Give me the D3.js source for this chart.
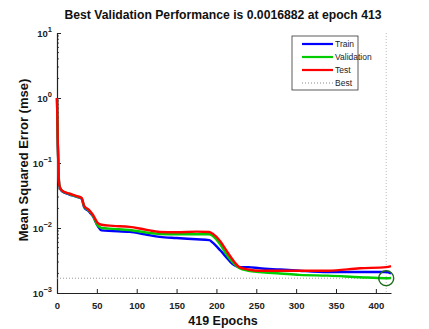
<!DOCTYPE html>
<html>
<head>
<meta charset="utf-8">
<script src="https://cdn.jsdelivr.net/npm/d3@7"></script>
<style>
  body { margin: 0; background: #fff; }
  svg { display: block; font-family: "Liberation Sans", Arial, sans-serif; }
</style>
</head>
<body>
<script>
// epochs
var epochs = [0, 1, 2, 3, 6, 15, 25, 31, 34, 40, 45, 51, 56, 70, 91, 110, 129, 150, 175, 191, 195, 205, 212, 220, 229, 240, 254, 280, 304, 340, 380, 413, 419]
var trainPerf = [1.0, 0.2, 0.068, 0.044, 0.037, 0.033, 0.030, 0.028, 0.021, 0.018, 0.0152, 0.0108, 0.0092, 0.0090, 0.0087, 0.0080, 0.0073, 0.0070, 0.0067, 0.0065, 0.0060, 0.0045, 0.0036, 0.0028, 0.0025, 0.0025, 0.0024, 0.0023, 0.0022, 0.0021, 0.0021, 0.0021, 0.0020]
var valPerf = [1.0, 0.2, 0.069, 0.045, 0.0375, 0.0335, 0.0305, 0.0285, 0.0215, 0.0185, 0.0155, 0.011, 0.0100, 0.0097, 0.0093, 0.0086, 0.0081, 0.0080, 0.0080, 0.0080, 0.0076, 0.0055, 0.0040, 0.0030, 0.0024, 0.0022, 0.0021, 0.0020, 0.0019, 0.00185, 0.00175, 0.0016882, 0.0017]
var testPerf = [1.0, 0.2, 0.07, 0.045, 0.038, 0.034, 0.031, 0.029, 0.022, 0.019, 0.016, 0.012, 0.0112, 0.0108, 0.0104, 0.0095, 0.0087, 0.0086, 0.0088, 0.0087, 0.0082, 0.0062, 0.0046, 0.0033, 0.0025, 0.0023, 0.0022, 0.0022, 0.0022, 0.0022, 0.0024, 0.0025, 0.0026]
var xTicks = [0, 50, 100, 150, 200, 250, 300, 350, 400]
var yExps = [1, 0, -1, -2, -3]
var bestEpoch = 413
var bestPerf = 0.0016882
var seriesNames = ["Train", "Validation", "Test", "Best"]
var seriesColors = ["#0000ff", "#00cc00", "#ff0000", "#888"]

var width = 429, height = 329
var margin = {top: 33, left: 57, bottom: 36, right: 38}

var svg = d3.select("body").append("svg")
    .attr("width", width).attr("height", height)

var x = d3.scaleLinear().domain([0, 419]).range([margin.left, width - margin.right])
var y = d3.scaleLog().domain([1e-3, 10]).range([height - margin.bottom, margin.top])

// y minor ticks
var minor = []
for (var e = -3; e < 1; e++) {
    for (var m = 2; m < 10; m++) minor.push(m * Math.pow(10, e))
}
svg.append("g").selectAll("line").data(minor).enter().append("line")
    .attr("x1", margin.left).attr("x2", margin.left + 2)
    .attr("y1", function(d){ return y(d) }).attr("y2", function(d){ return y(d) })
    .attr("stroke", "#222").attr("stroke-width", 0.8)

// axes (ticks inward, matlab style)
var xAxis = svg.append("g")
    .attr("transform", "translate(0," + (height - margin.bottom) + ")")
    .call(d3.axisBottom(x).tickValues(xTicks).tickSize(-4).tickSizeOuter(0).tickPadding(9))
xAxis.select(".domain").attr("stroke", "#222").attr("stroke-width", 1.2)
xAxis.selectAll(".tick line").attr("stroke", "#222")
xAxis.selectAll("text").attr("font-size", 9.5).attr("font-weight", "bold").attr("fill", "#222")

var yAxis = svg.append("g")
    .attr("transform", "translate(" + margin.left + ",0)")
    .call(d3.axisLeft(y).tickValues(yExps.map(function(e){ return Math.pow(10, e) })).tickSize(-4).tickSizeOuter(0).tickFormat(""))
yAxis.select(".domain").attr("stroke", "#222").attr("stroke-width", 1.2)
yAxis.selectAll(".tick line").attr("stroke", "#222")

var ylab = svg.append("g").selectAll("text").data(yExps).enter().append("text")
    .attr("x", margin.left - 5)
    .attr("y", function(d){ return y(Math.pow(10, d)) + 4 })
    .attr("text-anchor", "end")
    .attr("font-size", 9.5).attr("font-weight", "bold").attr("fill", "#222")
ylab.append("tspan").text("10")
ylab.append("tspan").attr("dy", -5).attr("font-size", 7.5).text(function(d){ return d < 0 ? "\u2212" + (-d) : d })

// best lines
svg.append("line")
    .attr("x1", margin.left).attr("x2", width - margin.right)
    .attr("y1", y(bestPerf)).attr("y2", y(bestPerf))
    .attr("stroke", "#999").attr("stroke-dasharray", "1,2")
svg.append("line")
    .attr("x1", x(bestEpoch)).attr("x2", x(bestEpoch))
    .attr("y1", margin.top).attr("y2", height - margin.bottom)
    .attr("stroke", "#bbb").attr("stroke-dasharray", "1,2")

var line = d3.line()
    .x(function(d){ return x(d[0]) })
    .y(function(d){ return y(d[1]) })
    .curve(d3.curveMonotoneX)

var series = [trainPerf, valPerf, testPerf]
series.forEach(function(vals, i) {
    svg.append("path")
        .datum(epochs.map(function(ep, j){ return [ep, vals[j]] }))
        .attr("d", line)
        .attr("fill", "none")
        .attr("stroke", seriesColors[i])
        .attr("stroke-width", 2.4)
        .attr("stroke-linejoin", "round")
})

svg.append("circle")
    .attr("cx", x(bestEpoch)).attr("cy", y(bestPerf)).attr("r", 7.5)
    .attr("fill", "none").attr("stroke", "#1a6b1a").attr("stroke-width", 1.4)

// legend
var lg = svg.append("g").attr("transform", "translate(292,36)")
lg.append("rect").attr("width", 66).attr("height", 54)
    .attr("fill", "#fff").attr("stroke", "#333").attr("stroke-width", 0.8)
seriesNames.forEach(function(n, i) {
    var yy = 8 + i * 13
    lg.append("line").attr("x1", 10).attr("x2", 41).attr("y1", yy).attr("y2", yy)
        .attr("stroke", seriesColors[i])
        .attr("stroke-width", i < 3 ? 2.2 : 1)
        .attr("stroke-dasharray", i < 3 ? null : "1,2")
    lg.append("text").attr("x", 43).attr("y", yy + 3).attr("font-size", 8.5).attr("fill", "#222").text(n)
})

// titles
svg.append("text").attr("x", 223).attr("y", 19).attr("text-anchor", "middle")
    .attr("font-size", 12.2).attr("font-weight", "bold").attr("fill", "#111")
    .text("Best Validation Performance is 0.0016882 at epoch 413")
svg.append("text").attr("x", 223).attr("y", 325).attr("text-anchor", "middle")
    .attr("font-size", 12.5).attr("font-weight", "bold").attr("fill", "#111")
    .text("419 Epochs")
svg.append("text").attr("transform", "translate(28,160) rotate(-90)").attr("text-anchor", "middle")
    .attr("font-size", 13).attr("font-weight", "bold").attr("fill", "#111")
    .text("Mean Squared Error (mse)")
</script>
</body>
</html>
